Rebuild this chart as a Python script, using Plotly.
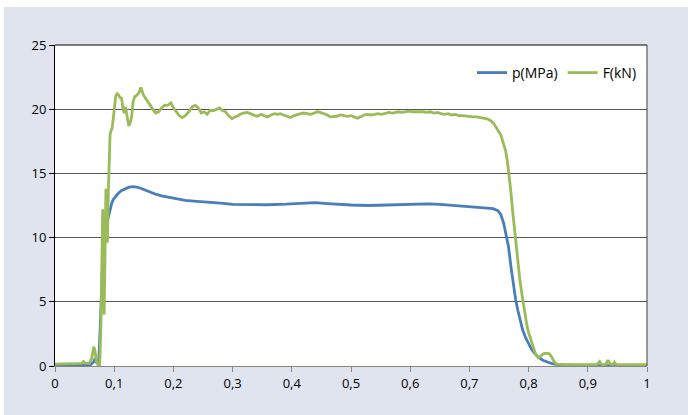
import plotly.graph_objects as go

# ---- data ----
t_p = [0, 0.02, 0.04, 0.06, 0.065, 0.068, 0.071, 0.074, 0.076, 0.078, 0.080, 0.082, 0.084, 0.086,
       0.088, 0.090, 0.093, 0.096, 0.099, 0.103, 0.107, 0.112, 0.118, 0.125, 0.132, 0.14, 0.15,
       0.16, 0.17, 0.18, 0.19, 0.20, 0.22, 0.24, 0.26, 0.28, 0.30, 0.33, 0.36, 0.39, 0.42, 0.44,
       0.46, 0.48, 0.50, 0.53, 0.56, 0.60, 0.63, 0.65, 0.67, 0.69, 0.71, 0.73, 0.74, 0.748, 0.753,
       0.758, 0.762, 0.766, 0.770, 0.774, 0.778, 0.782, 0.786, 0.790, 0.795, 0.800, 0.805, 0.810,
       0.816, 0.824, 0.832, 0.84, 0.85, 0.87, 0.9, 0.95, 1.0]
p_mpa = [0.05, 0.05, 0.05, 0.1, 0.3, 0.6, 0.2, 0.5, 2.5, 5.5, 7.5, 9.0, 10.0, 10.8,
         11.2, 11.6, 12.2, 12.7, 13.0, 13.25, 13.45, 13.65, 13.8, 13.93, 13.97, 13.92, 13.75,
         13.55, 13.38, 13.25, 13.15, 13.05, 12.9, 12.82, 12.76, 12.68, 12.58, 12.55, 12.56, 12.6, 12.68, 12.72,
         12.65, 12.58, 12.54, 12.5, 12.53, 12.6, 12.62, 12.58, 12.52, 12.42, 12.36, 12.3, 12.25, 12.1, 11.8,
         11.1, 10.2, 9.3, 7.8, 6.3, 5.2, 4.3, 3.5, 2.8, 2.2, 1.7, 1.3, 1.0,
         0.7, 0.45, 0.3, 0.18, 0.1, 0.05, 0.03, 0.03, 0.03]

t_f = [0, 0.01, 0.02, 0.03, 0.04, 0.045, 0.048, 0.051, 0.058, 0.062, 0.0655, 0.0675, 0.070, 0.073,
       0.0755, 0.0775, 0.0795, 0.0805, 0.0815, 0.083, 0.0845, 0.086, 0.0875, 0.0885, 0.090, 0.0915,
       0.093, 0.0945, 0.0965, 0.0985, 0.1005, 0.1025, 0.105, 0.1075, 0.110, 0.1125, 0.115, 0.1168,
       0.119, 0.1215, 0.1245, 0.127, 0.1297, 0.132, 0.135, 0.1385, 0.142, 0.145, 0.1485, 0.152,
       0.155, 0.158, 0.161, 0.165, 0.170, 0.175, 0.180, 0.185, 0.19, 0.196, 0.2, 0.205, 0.21,
       0.215, 0.22, 0.226, 0.232, 0.237, 0.242, 0.247, 0.252, 0.257, 0.262, 0.268, 0.273, 0.278,
       0.283, 0.288, 0.293, 0.299, 0.304, 0.308, 0.313, 0.318, 0.325, 0.332, 0.338, 0.342, 0.348,
       0.353, 0.359, 0.365, 0.371, 0.376, 0.381, 0.386, 0.392, 0.398, 0.404, 0.41, 0.415, 0.42,
       0.426, 0.432, 0.438, 0.443, 0.448, 0.454, 0.46, 0.465, 0.47, 0.476, 0.482, 0.488, 0.494,
       0.5, 0.506, 0.511, 0.516, 0.522, 0.527, 0.533, 0.54, 0.546, 0.552, 0.558, 0.564, 0.57,
       0.575, 0.58, 0.586, 0.592, 0.598, 0.604, 0.61, 0.616, 0.622, 0.628, 0.634, 0.64, 0.646,
       0.652, 0.658, 0.664, 0.67, 0.676, 0.682, 0.688, 0.694, 0.70, 0.706, 0.712, 0.718, 0.724,
       0.73, 0.736, 0.741, 0.745, 0.749, 0.753, 0.757, 0.761, 0.764, 0.767, 0.770, 0.773, 0.776,
       0.779, 0.782, 0.785, 0.788, 0.791, 0.794, 0.797, 0.800, 0.804, 0.808, 0.812, 0.816, 0.82,
       0.825, 0.83, 0.835, 0.839, 0.843, 0.847, 0.86, 0.88, 0.9, 0.915, 0.92, 0.924, 0.93, 0.934,
       0.938, 0.942, 0.945, 0.948, 0.97, 1.0]
f_kn = [0.15, 0.15, 0.15, 0.15, 0.18, 0.2, 0.35, 0.2, 0.2, 0.6, 1.5, 1.2, 0.3, 0.05,
        0.1, 3.0, 9.0, 12.2, 8.0, 4.0, 8.5, 13.8, 10.5, 9.6, 13.5, 17.0,
        18.0, 18.3, 18.5, 19.3, 20.2, 21.0, 21.2, 21.1, 20.9, 20.85, 20.0, 19.7,
        20.2, 19.5, 18.7, 18.9, 19.5, 20.6, 21.0, 21.1, 21.3, 21.7, 21.2, 20.9,
        20.7, 20.6, 20.3, 20.0, 19.7, 19.8, 20.1, 20.3, 20.3, 20.5, 20.1, 19.8, 19.5,
        19.35, 19.5, 19.8, 20.2, 20.3, 20.1, 19.7, 19.8, 19.6, 19.9, 19.9, 20.0, 20.1,
        19.9, 19.8, 19.5, 19.25, 19.4, 19.45, 19.6, 19.7, 19.75, 19.6, 19.5, 19.45, 19.6,
        19.5, 19.4, 19.55, 19.65, 19.6, 19.65, 19.55, 19.45, 19.35, 19.5, 19.6, 19.65, 19.7,
        19.65, 19.6, 19.7, 19.8, 19.75, 19.65, 19.55, 19.4, 19.4, 19.45, 19.55, 19.5, 19.45,
        19.5, 19.4, 19.3, 19.4, 19.55, 19.6, 19.55, 19.6, 19.65, 19.6, 19.7, 19.75, 19.7,
        19.75, 19.8, 19.75, 19.8, 19.85, 19.8, 19.8, 19.85, 19.8, 19.75, 19.8, 19.7, 19.75,
        19.65, 19.6, 19.65, 19.55, 19.6, 19.5, 19.5, 19.45, 19.45, 19.4, 19.4, 19.35, 19.3,
        19.25, 19.1, 18.9, 18.6, 18.3, 18.0, 17.4, 16.8, 16.0, 15.0, 13.6, 12.1, 10.7,
        9.3, 8.1, 6.8, 5.8, 4.8, 3.9, 3.2, 2.6, 2.0, 1.4, 0.9, 0.65, 0.75,
        0.95, 1.0, 0.95, 0.7, 0.35, 0.15, 0.1, 0.1, 0.08, 0.1, 0.35, 0.1, 0.1, 0.45,
        0.15, 0.1, 0.3, 0.1, 0.1, 0.1]

x_ticks = [0, 0.1, 0.2, 0.3, 0.4, 0.5, 0.6, 0.7, 0.8, 0.9, 1]
y_ticks = [0, 5, 10, 15, 20, 25]

# ---- layout constants ----
W, H = 688, 415
ML, MR, MT, MB = 55, 41, 45, 49
PW = W - ML - MR
PH = H - MT - MB

BLUE = "#4a7ebb"
GREEN = "#9bbb59"
FONT = "Open Sans"

fig = go.Figure()
fig.add_trace(go.Scatter(x=t_p, y=p_mpa, mode="lines", name="p(MPa)",
                         line=dict(color=BLUE, width=2.8)))
fig.add_trace(go.Scatter(x=t_f, y=f_kn, mode="lines", name="F(kN)",
                         line=dict(color=GREEN, width=2.8)))

def px_x(px):
    return (px - ML) / PW

def px_y(py):
    return (H - MB - py) / PH

shapes = [
    # white strips at top and left of the tinted frame
    dict(type="rect", xref="paper", yref="paper", x0=px_x(0), x1=px_x(W), y0=px_y(7), y1=px_y(0),
         fillcolor="white", line=dict(width=0), layer="below"),
    dict(type="rect", xref="paper", yref="paper", x0=px_x(0), x1=px_x(4), y0=px_y(H), y1=px_y(0),
         fillcolor="white", line=dict(width=0), layer="below"),
    # top border of the plot area
    dict(type="line", xref="paper", yref="paper", x0=0, x1=1, y0=1, y1=1,
         line=dict(color="#000000", width=1)),
    # right border
    dict(type="line", xref="paper", yref="paper", x0=1, x1=1, y0=0, y1=1,
         line=dict(color="#404040", width=1)),
]

fig.update_layout(
    width=W, height=H,
    margin=dict(l=ML, r=MR, t=MT, b=MB, pad=0),
    paper_bgcolor="#e0e4ef",
    plot_bgcolor="white",
    separators=", ",
    font=dict(family=FONT, size=13, color="#000000"),
    shapes=shapes,
    showlegend=True,
    legend=dict(orientation="h", x=px_x(642), xanchor="right", y=px_y(73), yanchor="middle",
                bgcolor="rgba(0,0,0,0)", font=dict(family=FONT, size=14, color="#000000"),
                itemwidth=30, traceorder="normal"),
    xaxis=dict(range=[0, 1], tickmode="array", tickvals=x_ticks, showgrid=False, zeroline=False,
               showline=True, linecolor="#868686", linewidth=1, ticks="outside", ticklen=5,
               tickcolor="#868686", tickfont=dict(family=FONT, size=13, color="#000000")),
    yaxis=dict(range=[0, 25], tickmode="array", tickvals=y_ticks, showgrid=True,
               gridcolor="#555555", gridwidth=1, zeroline=False,
               showline=True, linecolor="#000000", linewidth=1, ticks="outside", ticklen=5,
               tickcolor="#000000", tickfont=dict(family=FONT, size=13, color="#000000")),
)

fig.write_html("out.html", config={"displayModeBar": False},
               post_script="document.body.style.margin='0';document.body.style.padding='0';")
